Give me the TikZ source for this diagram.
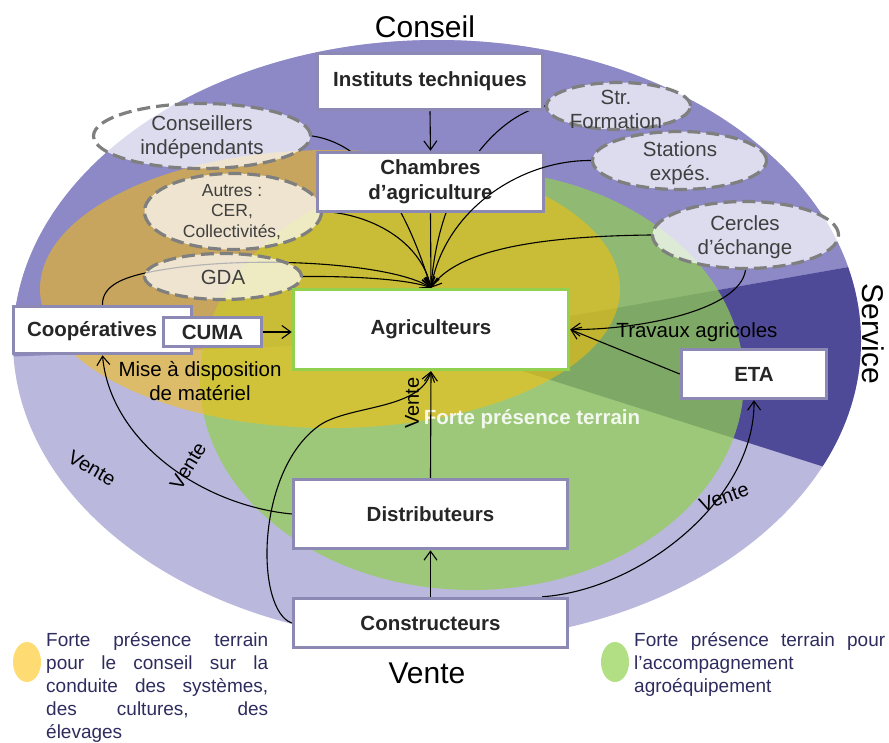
\documentclass[tikz,border=0pt]{standalone}
\usepackage{fontspec}
\setmainfont{Liberation Sans}
\usetikzlibrary{shapes.geometric,arrows.meta,calc}
\pgfdeclarelayer{bg}
\pgfdeclarelayer{conn}
\pgfdeclarelayer{top}
\pgfsetlayers{bg,conn,main,top}
\definecolor{cpurple}{HTML}{8D89C6}
\definecolor{clav}{HTML}{BAB8DD}
\definecolor{cdark}{HTML}{4F4A98}
\definecolor{cgreen}{HTML}{92D050}
\definecolor{cyel}{HTML}{FFC000}
\definecolor{cbord}{HTML}{8C89B4}
\definecolor{cdash}{HTML}{7F7F7F}
\definecolor{ctext}{HTML}{262626}
\definecolor{cetext}{HTML}{3F3F3F}
\definecolor{cleg}{HTML}{2E2C5E}
\begin{document}
\begin{tikzpicture}[x=1pt,y=-1pt,
  box/.style={draw=cbord, line width=3.5pt, fill=white, inner sep=0pt, text=ctext,
    font=\fontsize{20.5}{25}\selectfont\bfseries, align=center},
  boxtext/.style={text=ctext, font=\fontsize{20.5}{25}\selectfont\bfseries, align=center, inner sep=0pt},
  dashell/.style={ellipse, draw=cdash, line width=3.2pt, dash pattern=on 13pt off 6pt,
    fill=white, fill opacity=0.7, draw opacity=1, inner sep=0pt},
  elltext/.style={text=cetext, font=\fontsize{20.5}{24}\selectfont, align=center, inner sep=0pt},
  conn/.style={draw=black, line width=1.1pt, -{Straight Barb[length=9pt,width=13pt]}},
  lbl/.style={text=black, font=\fontsize{20}{24}\selectfont, align=center, inner sep=0pt},
  big/.style={text=black, font=\fontsize{30}{36}\selectfont, inner sep=0pt},
  legtxt/.style={text=cleg, font=\fontsize{19}{23}\selectfont, inner sep=0pt, anchor=base west},
]
\useasboundingbox (0,0) rectangle (889,742);

% ---------- background zones ----------
\begin{pgfonlayer}{bg}
\fill[clav] (437,341) ellipse [x radius=424pt, y radius=301pt];
\begin{scope}
\clip (437,341) ellipse [x radius=424pt, y radius=301pt];
\fill[cpurple] (428,341) -- (0,357) -- (0,0) -- (900,0) -- (900,258) -- cycle;
\fill[cdark] (428,341) -- (900,258) -- (900,491) -- cycle;
\end{scope}
\fill[cgreen, fill opacity=0.7] (472,380) ellipse [x radius=272pt, y radius=210pt];
\fill[cyel, fill opacity=0.52] (330,289) ellipse [x radius=290pt, y radius=139pt];
\node[font=\fontsize{20.5}{25}\selectfont\bfseries, text=white, text opacity=0.88, inner sep=0pt] (terrain) at (532,419) {Forte présence terrain};
% legend marks
\fill[cyel, fill opacity=0.55] (27,662) ellipse [x radius=14pt, y radius=20pt];
\fill[cgreen, fill opacity=0.7] (615,662) ellipse [x radius=14pt, y radius=20pt];
\end{pgfonlayer}

% ---------- dashed ellipses ----------
\node[dashell, minimum width=217pt, minimum height=65pt] (ci) at (202,136) {};
\node[dashell, minimum width=177pt, minimum height=76pt] (au) at (233,211.5) {};
\node[dashell, minimum width=157pt, minimum height=46pt] (gda) at (223,276.5) {};
\node[dashell, minimum width=144pt, minimum height=47pt] (sf) at (618.5,106) {};
\node[dashell, minimum width=174pt, minimum height=58pt] (st) at (679.5,160.5) {};
\node[dashell, minimum width=186pt, minimum height=67pt] (ce) at (745.5,235) {};

\node[elltext] (cit) at (202,137) {Conseillers\\indépendants};
\node[elltext, font=\fontsize{17.5}{20.5}\selectfont] (aut) at (232,212) {Autres :\\CER,\\Collectivités,};
\node[elltext] (gdat) at (223,277) {GDA};
\node[elltext] (sft) at (616,109) {Str.\\Formation};
\node[elltext] (stt) at (680,163) {Stations\\expés.};
\node[elltext] (cet) at (745,237) {Cercles\\d’échange};

% ---------- boxes ----------
\node[box, minimum width=225pt, minimum height=56pt] (inst) at (430,81.5) {Instituts techniques};
\node[box, minimum width=226pt, minimum height=59pt] (cha) at (430.5,182) {Chambres\\d’agriculture};
\node[box, draw=cgreen, minimum width=275pt, minimum height=80pt] (agr) at (431,329.5) {Agriculteurs};
\node[box, minimum width=274pt, minimum height=69pt] (dis) at (430.5,514) {Distributeurs};
\node[box, minimum width=274pt, minimum height=49pt] (con) at (430.5,623) {Constructeurs};
\node[box, minimum width=178pt, minimum height=47pt] (coop) at (102.5,330) {};
\node[boxtext] (coopt) at (92,331) {Coopératives};
\node[box, minimum width=98pt, minimum height=29pt] (cuma) at (212.5,332) {CUMA};
\node[box, minimum width=145pt, minimum height=49pt] (eta) at (754,374) {ETA};

% ---------- connectors ----------
\begin{pgfonlayer}{conn}
\draw[conn] (inst.south) -- (cha.north);
\draw[conn] (ci.east) .. controls (375,145) and (410,220) .. (agr.north);
\draw[conn] (au.east) .. controls (370,214) and (420,240) .. (agr.north);
\draw[conn] (cha.south) -- (agr.north);
\draw[conn] (sf.west) .. controls (505,112) and (440,170) .. (agr.north);
\draw[conn] (ce.west) .. controls (560,236) and (460,245) .. (agr.north);
\draw[conn] (gda.east) .. controls (360,276) and (410,280) .. (agr.north);
\draw[conn] (coop.north) .. controls (102,285) and (125,277) .. (150,272) .. controls (240,254) and (390,262) .. (agr.north);
\draw[conn] (cuma.east) -- (cuma.east -| agr.west);
\draw[conn] (ce.south) .. controls (740,310) and (640,330) .. (agr.east);
\draw[conn] (eta.west) -- (agr.east);
\draw[conn] (dis.north) -- (agr.south);
\draw[conn] (con.north) -- (dis.south);
\draw[conn] (dis.west) .. controls (200,505) and (110,440) .. (coop.south);
\draw[conn] (con.west) .. controls (255,610) and (255,470) .. (320,425) .. controls (350,405) and (420,410) .. (agr.south);
\draw[conn] ($(con.north east)+(-27,0)$) .. controls (640,590) and (755,500) .. (eta.south);
\end{pgfonlayer}
\begin{pgfonlayer}{top}
\draw[conn] (st.west) .. controls (520,160) and (445,210) .. (agr.north);
\end{pgfonlayer}

% ---------- labels ----------
\node[big, anchor=base] (tconseil) at (425,37) {Conseil};
\node[big, anchor=base] (tvente) at (427,683) {Vente};
\node[big, rotate=-90] (tservice) at (873,334) {Service};
\node[lbl, font=\fontsize{20.5}{24}\selectfont] (tmise) at (200,381) {Mise à disposition\\de matériel};
\node[lbl, font=\fontsize{20.5}{24}\selectfont] (ttrav) at (697,332) {Travaux agricoles};
\node[lbl, rotate=90] (v1) at (412,403) {Vente};
\node[lbl, rotate=59] (v2) at (188,466) {Vente};
\node[lbl, rotate=-30] (v3) at (92,468) {Vente};
\node[lbl, rotate=20] (v4) at (724,497) {Vente};

% ---------- legend ----------
\node[legtxt] (lt1) at (46,646) {\makebox[222pt][s]{Forte présence terrain}};
\node[legtxt] (lt2) at (46,669) {\makebox[222pt][s]{pour le conseil sur la}};
\node[legtxt] (lt3) at (46,692) {\makebox[222pt][s]{conduite des systèmes,}};
\node[legtxt] (lt4) at (46,715) {\makebox[222pt][s]{des cultures, des}};
\node[legtxt] (lt5) at (46,738) {élevages};
\node[legtxt] (rt1) at (634,646) {\makebox[251pt][s]{Forte présence terrain pour}};
\node[legtxt] (rt2) at (634,669) {l’accompagnement};
\node[legtxt] (rt3) at (634,692) {agroéquipement};
\end{tikzpicture}
\end{document}
